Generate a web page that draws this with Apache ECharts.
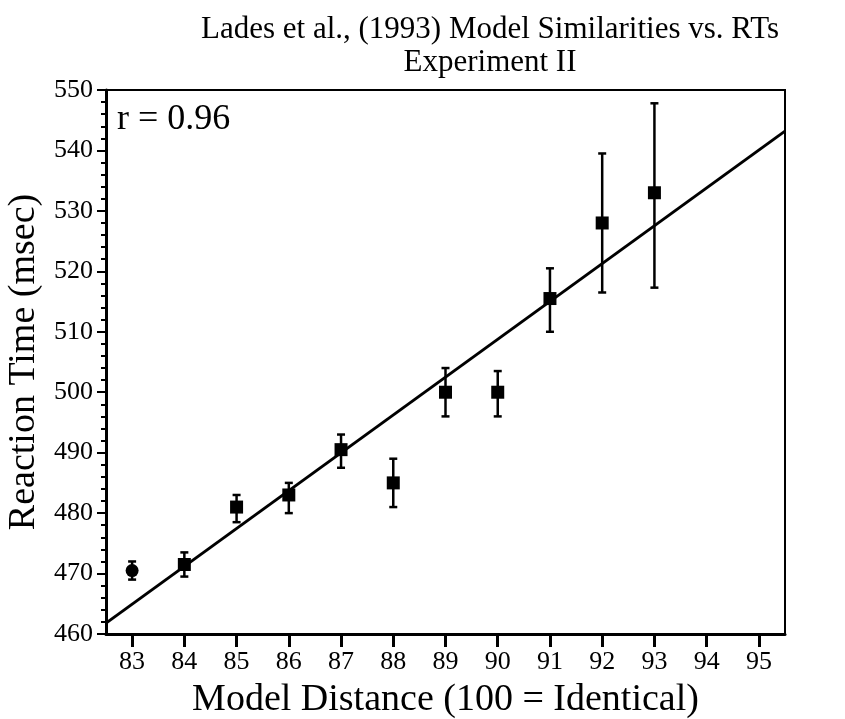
<!DOCTYPE html>
<html>
<head>
<meta charset="utf-8">
<script src="https://cdn.jsdelivr.net/npm/echarts@6/dist/echarts.min.js"></script>
<style>
  html, body { margin: 0; padding: 0; background: #fff; }
  #chart { width: 845px; height: 719px; }
</style>
</head>
<body>
<div id="chart"></div>
<script>
// model distance vs. mean RT, with error bar ends
const distances = [83, 84, 85, 86, 87, 88, 89, 90, 91, 92, 93]
const meanRT = [470.5, 471.5, 481, 483, 490.5, 485, 500, 500, 515.5, 528, 533]
const errLow = [469, 469.5, 478.5, 480, 487.5, 481, 496, 496, 510, 516.5, 517.3]
const errHigh = [472, 473.5, 483, 485, 493, 489, 504, 503.5, 520.5, 539.5, 547.8]
// regression line ends (x, y)
const fitX = [82.5, 95.5]
const fitY = [461.8, 543.2]
const xTicks = [83, 84, 85, 86, 87, 88, 89, 90, 91, 92, 93, 94, 95]

const font = 'Liberation Serif'

const chart = echarts.init(document.getElementById('chart'))

const points = distances.map((d, i) => ({
  value: [d, meanRT[i]],
  symbol: i === 0 ? 'circle' : 'rect',
}))
const bars = distances.map((d, i) => [d, errLow[i], errHigh[i]])
const fitLine = fitX.map((x, i) => [x, fitY[i]])

const option = {
  animation: false,
  backgroundColor: '#fff',
  title: {
    text: 'Lades et al., (1993) Model Similarities vs. RTs\nExperiment II',
    left: 485,
    top: 8,
    textAlign: 'center',
    textStyle: {
      fontFamily: font,
      fontWeight: 'normal',
      fontSize: 31,
      lineHeight: 33,
      color: '#000',
    },
  },
  graphic: [
    {
      type: 'text',
      left: 117,
      top: 102,
      style: { text: 'r = 0.96', font: '36px "Liberation Serif"', fill: '#000' },
    },
  ],
  grid: {
    left: 106,
    right: 60,
    top: 90,
    bottom: 85,
    outerBoundsMode: 'none',
    show: true,
    borderColor: '#000',
    borderWidth: 2,
  },
  xAxis: {
    type: 'value',
    min: 82.5,
    max: 95.5,
    interval: 1,
    name: 'Model Distance (100 = Identical)',
    nameLocation: 'middle',
    nameGap: 47,
    nameTextStyle: { fontFamily: font, fontSize: 38, color: '#000' },
    axisLine: { show: true, onZero: false, lineStyle: { color: '#000', width: 3 } },
    axisTick: {
      show: true,
      length: 13,
      lineStyle: { color: '#000', width: 3 },
      customValues: xTicks,
    },
    axisLabel: {
      fontFamily: font,
      fontSize: 26,
      color: '#000',
      margin: 15,
      customValues: xTicks,
    },
    splitLine: { show: false },
  },
  yAxis: {
    type: 'value',
    min: 460,
    max: 550,
    interval: 10,
    name: 'Reaction Time (msec)',
    nameLocation: 'middle',
    nameGap: 62,
    nameTextStyle: { fontFamily: font, fontSize: 38, color: '#000' },
    axisLine: { show: true, onZero: false, lineStyle: { color: '#000', width: 3 } },
    axisTick: { show: true, length: 9, lineStyle: { color: '#000', width: 2 } },
    minorTick: { show: true, splitNumber: 5, length: 5, lineStyle: { color: '#000', width: 2 } },
    axisLabel: { fontFamily: font, fontSize: 26, color: '#000', margin: 13 },
    splitLine: { show: false },
  },
  series: [
    {
      type: 'line',
      data: fitLine,
      showSymbol: false,
      lineStyle: { color: '#000', width: 3 },
      z: 2,
    },
    {
      type: 'custom',
      data: bars,
      renderItem: (params, api) => {
        const x = api.value(0)
        const lo = api.coord([x, api.value(1)])
        const hi = api.coord([x, api.value(2)])
        const cap = 4
        const style = { stroke: '#000', lineWidth: 2.5 }
        return {
          type: 'group',
          children: [
            { type: 'line', shape: { x1: lo[0], y1: lo[1], x2: hi[0], y2: hi[1] }, style },
            { type: 'line', shape: { x1: lo[0] - cap, y1: lo[1], x2: lo[0] + cap, y2: lo[1] }, style },
            { type: 'line', shape: { x1: hi[0] - cap, y1: hi[1], x2: hi[0] + cap, y2: hi[1] }, style },
          ],
        }
      },
      z: 3,
    },
    {
      type: 'scatter',
      data: points,
      symbolSize: 13,
      itemStyle: { color: '#000', opacity: 1 },
      z: 4,
    },
  ],
}

chart.setOption(option)
</script>
</body>
</html>
